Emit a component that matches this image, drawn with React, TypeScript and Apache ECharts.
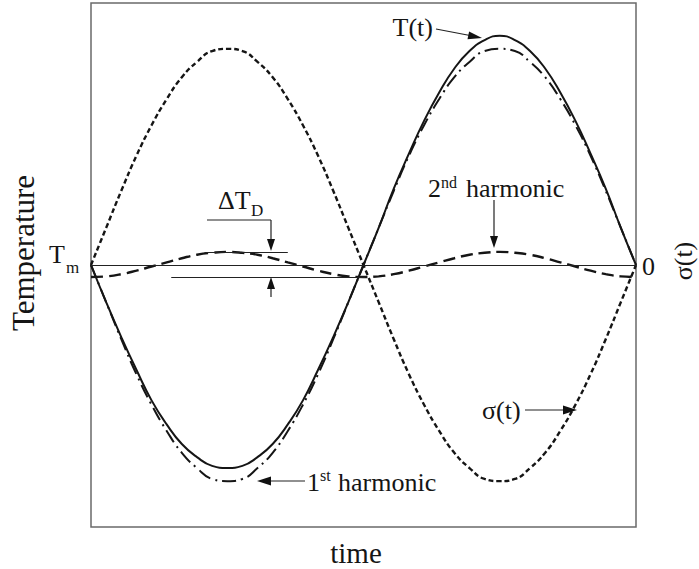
import React, { useEffect, useRef } from "react";
import * as echarts from "echarts";

// Phase angle over one cycle (degrees)
const phase = [0, 10, 20, 30, 40, 50, 60, 70, 80, 90, 100, 110, 120, 130, 140, 150, 160, 170, 180, 190, 200, 210, 220, 230, 240, 250, 260, 270, 280, 290, 300, 310, 320, 330, 340, 350, 360];

// Stress σ(t)
const sigma = [0, 0.17, 0.34, 0.5, 0.64, 0.76, 0.86, 0.93, 0.98, 0.99, 0.98, 0.93, 0.86, 0.76, 0.64, 0.5, 0.34, 0.17, 0, -0.17, -0.34, -0.5, -0.64, -0.76, -0.86, -0.93, -0.98, -0.99, -0.98, -0.93, -0.86, -0.76, -0.64, -0.5, -0.34, -0.17, 0];

// Temperature T(t)
const temperature = [0, -0.17, -0.33, -0.48, -0.62, -0.73, -0.82, -0.88, -0.92, -0.93, -0.92, -0.88, -0.82, -0.73, -0.62, -0.48, -0.33, -0.17, 0, 0.17, 0.35, 0.51, 0.66, 0.79, 0.9, 0.98, 1.03, 1.05, 1.03, 0.98, 0.9, 0.79, 0.66, 0.51, 0.35, 0.17, 0];

// First harmonic of T(t)
const firstHarmonic = [0, -0.17, -0.34, -0.5, -0.64, -0.76, -0.86, -0.93, -0.98, -0.99, -0.98, -0.93, -0.86, -0.76, -0.64, -0.5, -0.34, -0.17, 0, 0.17, 0.34, 0.5, 0.64, 0.76, 0.86, 0.93, 0.98, 0.99, 0.98, 0.93, 0.86, 0.76, 0.64, 0.5, 0.34, 0.17, 0];

// Second harmonic of T(t)
const secondHarmonic = [-0.055, -0.052, -0.042, -0.026, -0.007, 0.012, 0.031, 0.047, 0.056, 0.06, 0.056, 0.047, 0.031, 0.012, -0.007, -0.026, -0.042, -0.052, -0.055, -0.052, -0.042, -0.026, -0.007, 0.012, 0.031, 0.047, 0.056, 0.06, 0.056, 0.047, 0.031, 0.012, -0.007, -0.026, -0.042, -0.052, -0.055];

const INK = "#151515";
const SERIF = "Liberation Serif";

const pair = (ys: number[]) => phase.map((p, i) => [p, ys[i]]);

const txt = (text: string, x: number, y: number, size: number, align: string = "left", rotation = 0) => ({
  type: "text",
  x,
  y,
  rotation,
  silent: true,
  style: {
    text,
    fill: INK,
    fontSize: size,
    fontFamily: SERIF,
    align,
    verticalAlign: "middle",
  },
});

const seg = (x1: number, y1: number, x2: number, y2: number, w = 1.2) => ({
  type: "line",
  silent: true,
  shape: { x1, y1, x2, y2 },
  style: { stroke: "#222", lineWidth: w },
});

const head = (pts: number[][]) => ({
  type: "polygon",
  silent: true,
  shape: { points: pts },
  style: { fill: "#111" },
});

export default function App() {
  const ref = useRef<HTMLDivElement>(null);

  useEffect(() => {
    if (!ref.current) return;
    const chart = echarts.init(ref.current, null, { renderer: "svg" });

    const dtHigh = Math.max(...secondHarmonic);
    const dtLow = Math.min(...secondHarmonic);

    chart.setOption({
      animation: false,
      backgroundColor: "#ffffff",
      textStyle: { fontFamily: SERIF },
      grid: {
        left: 91,
        right: 63,
        top: 3,
        bottom: 42,
        show: true,
        borderColor: "#6a6a6a",
        borderWidth: 1.5,
      },
      xAxis: {
        type: "value",
        min: 0,
        max: 360,
        axisLine: { show: false },
        axisTick: { show: false },
        axisLabel: { show: false },
        splitLine: { show: false },
      },
      yAxis: {
        type: "value",
        min: -1.2,
        max: 1.2,
        axisLine: { show: false },
        axisTick: { show: false },
        axisLabel: { show: false },
        splitLine: { show: false },
      },
      series: [
        {
          name: "σ(t)",
          type: "line",
          data: pair(sigma),
          smooth: true,
          symbol: "none",
          lineStyle: { color: INK, width: 2.4, type: [5, 3] },
          markLine: {
            silent: true,
            symbol: "none",
            label: { show: false },
            lineStyle: { color: "#222", width: 1.2, type: "solid" },
            data: [{ yAxis: 0 }],
          },
        },
        {
          name: "T(t)",
          type: "line",
          data: pair(temperature),
          smooth: true,
          symbol: "none",
          lineStyle: { color: INK, width: 2 },
        },
        {
          name: "1st harmonic",
          type: "line",
          data: pair(firstHarmonic),
          smooth: true,
          symbol: "none",
          lineStyle: { color: INK, width: 2, type: [14, 5, 2, 5] },
        },
        {
          name: "2nd harmonic",
          type: "line",
          data: pair(secondHarmonic),
          smooth: true,
          symbol: "none",
          lineStyle: { color: INK, width: 2.4, type: [12, 6] },
          markLine: {
            silent: true,
            symbol: "none",
            label: { show: false },
            lineStyle: { color: "#222", width: 1.2, type: "solid" },
            data: [
              [{ coord: [75, dtHigh] }, { coord: [130, dtHigh] }],
              [{ coord: [53, dtLow] }, { coord: [181, dtLow] }],
            ],
          },
        },
      ],
      graphic: [
        // axis titles
        txt("Temperature", 23, 253, 31, "center", Math.PI / 2),
        txt("time", 356, 553, 29, "center"),
        txt("σ(t)", 683, 261, 26, "center", Math.PI / 2),
        txt("0", 642, 266, 26),
        txt("T", 49, 254, 26),
        txt("m", 66, 267, 17),
        // ΔT_D dimension
        txt("ΔT", 218, 200, 26),
        txt("D", 251, 210, 17),
        seg(207, 220, 271, 220),
        seg(271, 220, 271, 240),
        head([[271, 251], [267, 239], [275, 239]]),
        seg(271, 297, 271, 288),
        head([[271, 277], [267, 289], [275, 289]]),
        // T(t) callout
        txt("T(t)", 433, 27, 26, "right"),
        seg(436, 29, 470, 35.5),
        head([[482, 38], [469.1, 31.4], [467.5, 39.2]]),
        // 2nd harmonic callout
        txt("2", 428, 188, 26),
        txt("nd", 441, 182, 16),
        txt("harmonic", 466, 188, 26),
        seg(494, 200, 494, 237),
        head([[494, 248], [490, 236], [498, 236]]),
        // 1st harmonic callout
        txt("1", 307, 482, 26),
        txt("st", 320, 475, 16),
        txt("harmonic", 338, 482, 26),
        seg(305, 481, 270, 481),
        head([[257, 481], [271, 476.5], [271, 485.5]]),
        // σ(t) callout
        txt("σ(t)", 482, 410, 26),
        seg(525, 410, 563, 410),
        head([[577, 410], [563, 405.5], [563, 414.5]]),
      ],
    });

    return () => chart.dispose();
  }, []);

  return (
    <div
      ref={ref}
      style={{ position: "fixed", left: 0, top: 0, width: 699, height: 569, background: "#fff" }}
    />
  );
}
